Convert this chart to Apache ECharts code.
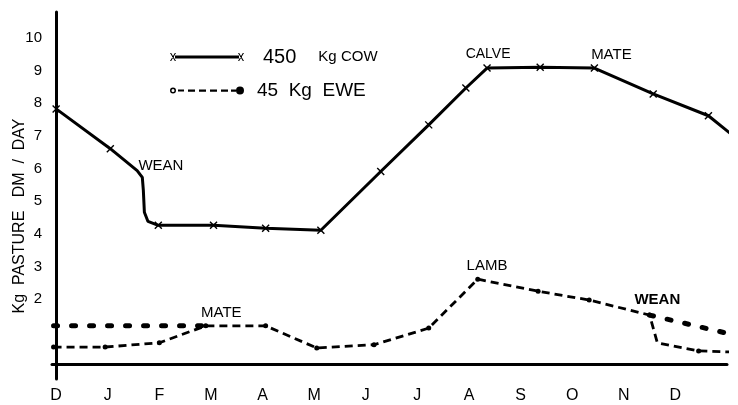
<!DOCTYPE html>
<html>
<head>
<meta charset="utf-8">
<script src="https://cdn.jsdelivr.net/npm/echarts@6/dist/echarts.min.js"></script>
<style>
  html, body { margin: 0; padding: 0; background: #fff; }
  #chart { width: 738px; height: 405px; }
</style>
</head>
<body>
<div id="chart"></div>
<script>
// month ticks along the x axis (Dec .. Dec)
const months = ['D', 'J', 'F', 'M', 'A', 'M', 'J', 'J', 'A', 'S', 'O', 'N', 'D'];
const yTicks = [2, 3, 4, 5, 6, 7, 8, 9, 10];

// 450 kg cow, month index vs kg DM/day (0 marks = bend points, no symbol)
const cowX = [0, 1.05, 1.57, 1.67, 1.69, 1.71, 1.78, 1.98, 3.05, 4.06, 5.13, 6.29, 7.22, 7.94, 8.35, 9.38, 10.43, 11.57, 12.64, 13.24];
const cowY = [7.83, 6.61, 5.94, 5.73, 5.33, 4.66, 4.38, 4.26, 4.26, 4.17, 4.11, 5.91, 7.34, 8.47, 9.08, 9.11, 9.08, 8.29, 7.62, 6.85];
const cowMark = [1, 1, 0, 0, 0, 0, 0, 1, 1, 1, 1, 1, 1, 1, 1, 1, 1, 1, 1, 0];

// 45 kg ewe
const eweX = [-0.05, 0.95, 2.0, 2.9, 4.06, 5.05, 6.16, 7.22, 8.17, 9.34, 10.33, 11.5, 11.65, 12.45, 13.05];
const eweY = [0.53, 0.53, 0.66, 1.18, 1.18, 0.5, 0.6, 1.11, 2.61, 2.24, 1.97, 1.51, 0.66, 0.41, 0.38];
const eweMark = [1, 1, 1, 1, 1, 1, 1, 1, 1, 1, 1, 1, 0, 1, 0];

// heavy dashed ewe line (before mating, after weaning)
const eweHeavyX = [-0.05, 2.9, null, 11.5, 13.22];
const eweHeavyY = [1.18, 1.18, null, 1.51, 0.87];

// event notes [text, month, value, weight]
const notes = [
  ['WEAN', 2.03, 6.09, 'normal'],
  ['CALVE', 8.37, 9.5, 'normal'],
  ['MATE', 10.76, 9.5, 'normal'],
  ['MATE', 3.2, 1.57, 'normal'],
  ['LAMB', 8.35, 3.01, 'normal'],
  ['WEAN', 11.65, 1.97, 'bold']
];

const FONT = '"Liberation Sans", Arial, sans-serif';
const xMark = 'path://M0,0L10,10M10,0L0,10';

// legend keys: x---x for the cow, o- - -● for the ewe
const cowIcon = 'path://M0,0L1.2,0L6,8L4.8,8ZM4.8,0L6,0L1.2,8L0,8Z' +
  'M5,2.4L69,2.4L69,5.6L5,5.6Z' +
  'M68,0L69.2,0L74,8L72.8,8ZM72.8,0L74,0L69.2,8L68,8Z';
const eweIcon = 'path://M0,4A3,3 0 1,0 6,4A3,3 0 1,0 0,4ZM1.5,4A1.5,1.5 0 1,1 4.5,4A1.5,1.5 0 1,1 1.5,4Z' +
  'M8,3L14,3L14,5L8,5ZM18,3L25,3L25,5.2L18,5.2ZM29,3L36,3L36,5.2L29,5.2Z' +
  'M40,3L47,3L47,5.2L40,5.2ZM51,3L58,3L58,5.2L51,5.2ZM61,3L66,3L66,5.2L61,5.2Z' +
  'M66,4A4,4 0 1,0 74,4A4,4 0 1,0 66,4Z';

function pts(xs, ys, marks) {
  return xs.map((x, i) => {
    if (x === null) return [null, '-'];
    const item = { value: [x, ys[i]] };
    if (marks && !marks[i]) item.symbol = 'none';
    return item;
  });
}

let chart = echarts.init(document.getElementById('chart'));

let option = {
  animation: false,
  backgroundColor: '#fff',
  grid: { left: 52, right: 11, top: 12, bottom: 26 },
  legend: {
    data: [
      { name: '450 Kg COW', icon: cowIcon },
      { name: '45 Kg EWE', icon: eweIcon }
    ],
    orient: 'vertical',
    left: 165,
    top: 42,
    itemWidth: 74,
    itemHeight: 8,
    itemGap: 14,
    itemStyle: { color: '#000', borderWidth: 0 },
    formatter: function (name) {
      return name === '450 Kg COW' ? '{n|450}{k|Kg COW}' : '{e|45  Kg  EWE}';
    },
    textStyle: {
      color: '#000',
      fontFamily: FONT,
      rich: {
        n: { fontSize: 20, fontWeight: 'lighter', lineHeight: 16, padding: [0, 0, 0, 14], fontFamily: FONT },
        k: { fontSize: 15, lineHeight: 16, padding: [0, 0, 0, 22], fontFamily: FONT },
        e: { fontSize: 19, lineHeight: 16, padding: [0, 0, 0, 8], fontFamily: FONT }
      }
    }
  },
  xAxis: {
    type: 'value',
    min: -0.08,
    max: 13.0,
    splitLine: { show: false },
    axisTick: { show: false },
    axisLine: { lineStyle: { color: '#000', width: 3 } },
    axisLabel: {
      customValues: months.map((m, i) => i),
      formatter: v => months[Math.round(v)],
      color: '#000',
      fontSize: 16,
      fontFamily: FONT,
      margin: 9
    }
  },
  yAxis: {
    type: 'value',
    min: -0.45,
    max: 10.8,
    splitLine: { show: false },
    axisTick: { show: false },
    axisLine: { show: true, lineStyle: { color: '#000', width: 3 } },
    axisLabel: {
      customValues: yTicks,
      color: '#000',
      fontSize: 15,
      fontFamily: FONT,
      margin: 10
    }
  },
  series: [
    {
      name: '450 Kg COW',
      type: 'line',
      clip: false,
      symbol: xMark,
      symbolSize: 7,
      color: '#000',
      itemStyle: { color: '#000', borderColor: '#000', borderWidth: 1.4 },
      lineStyle: { color: '#000', width: 3 },
      data: pts(cowX, cowY, cowMark)
    },
    {
      name: '45 Kg EWE',
      type: 'line',
      clip: false,
      symbol: 'circle',
      symbolSize: 5,
      color: '#000',
      itemStyle: { color: '#000' },
      lineStyle: { color: '#000', width: 2.8, type: [8, 5] },
      data: pts(eweX, eweY, eweMark)
    },
    {
      name: 'ewe heavy',
      type: 'line',
      clip: false,
      symbol: 'none',
      connectNulls: false,
      lineStyle: { color: '#000', width: 5, type: [4, 14], cap: 'round' },
      data: pts(eweHeavyX, eweHeavyY)
    }
  ]
};

chart.setOption(option);

// notes and axis title placed through the chart's own scales
let graphics = notes.map(n => {
  const p = chart.convertToPixel({ gridIndex: 0 }, [n[1], n[2]]);
  return {
    type: 'text',
    x: p[0],
    y: p[1],
    style: {
      text: n[0],
      fill: '#000',
      fontSize: n[0] === 'CALVE' ? 14 : 15,
      fontWeight: n[3],
      fontFamily: FONT,
      align: 'center',
      verticalAlign: 'middle'
    }
  };
});
graphics.push({
  type: 'text',
  x: 20,
  y: 216,
  rotation: Math.PI / 2,
  style: {
    text: 'Kg  PASTURE   DM  /  DAY',
    fill: '#000',
    fontSize: 16,
    fontFamily: FONT,
    align: 'center',
    verticalAlign: 'middle'
  }
});
chart.setOption({ graphic: graphics });
</script>
</body>
</html>
